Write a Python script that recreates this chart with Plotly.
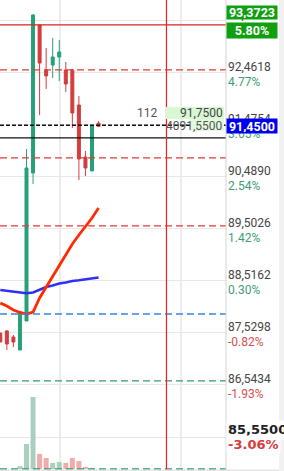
import plotly.graph_objects as go

# ---- data ----
idx = list(range(16))
opens  = [87.530, 87.568, 87.454, 87.207, 87.757, 90.565, 93.372, 92.518, 92.613, 92.765, 92.518, 92.518, 91.854, 90.868, 90.603, 91.510]
highs  = [87.530, 87.587, 87.492, 87.928, 91.020, 93.581, 93.372, 92.936, 93.125, 93.087, 92.670, 92.537, 92.025, 90.982, 91.470, 91.550]
lows   = [87.359, 87.207, 87.264, 87.207, 87.757, 90.356, 91.665, 92.158, 92.367, 92.310, 92.101, 91.418, 90.432, 90.508, 90.603, 91.450]
closes = [87.359, 87.321, 87.359, 87.928, 90.659, 93.562, 92.651, 92.405, 92.765, 92.860, 92.253, 91.703, 90.830, 90.659, 91.470, 91.450]
volume = [0, 0, 0, 1.2, 10.4, 30.0, 6.3, 4.6, 2.5, 2.9, 2.5, 4.6, 3.3, 0.8, 0.4, 0]
ma_fast = [88.099, 88.042, 87.966, 87.919, 87.890, 87.928, 88.194, 88.402, 88.611, 88.820, 89.028, 89.218, 89.389, 89.540, 89.711, 89.901]
ma_slow = [88.345, 88.326, 88.307, 88.288, 88.283, 88.298, 88.355, 88.402, 88.431, 88.469, 88.488, 88.516, 88.529, 88.548, 88.554, 88.582]
grid_prices = [93.4482, 92.4618, 91.4754, 90.4890, 89.5026, 88.5162, 87.5298, 86.5434, 85.5570]
ref_price = 88.25
high_label = 93.3723
last_price = 91.45
low_label = 85.55
red_solid_level = 93.3723
red_dash_levels = [92.52, 90.85, 89.56]
black_dash_level = 91.47
black_solid_level = 91.23
blue_dash_level = 87.89
green_dash_levels = [86.62, 84.95]
marker_x = 25.37
vgrid_x = [9.11, 27.59]

UP = "#27a07a"
DN = "#d23d3d"
VUP = "#a9cfbe"
VDN = "#f2abab"

def fmt(p, n=4):
    return f"{p:.{n}f}".replace(".", ",")

def pct(p):
    return (p / ref_price - 1) * 100

fig = go.Figure()

fig.add_trace(go.Bar(
    x=idx, y=volume, yaxis="y2", width=0.76,
    marker=dict(color=[VUP if c >= o else VDN for o, c in zip(opens, closes)], line=dict(width=0)),
    showlegend=False, hoverinfo="skip"))

fig.add_trace(go.Candlestick(
    x=idx, open=opens, high=highs, low=lows, close=closes,
    increasing=dict(line=dict(color=UP, width=1), fillcolor=UP),
    decreasing=dict(line=dict(color=DN, width=1), fillcolor=DN),
    whiskerwidth=0, showlegend=False))

fig.add_trace(go.Scatter(x=idx, y=ma_slow, mode="lines",
                         line=dict(color="#2f2ff5", width=2.5), showlegend=False))
fig.add_trace(go.Scatter(x=idx, y=ma_fast, mode="lines",
                         line=dict(color="#ff2a00", width=2.8), showlegend=False))

shapes = []
for xv, w, c in zip(vgrid_x, [2, 1], ["#ececec", "#d9d9d9"]):
    shapes.append(dict(type="line", xref="x", yref="paper", x0=xv, x1=xv, y0=0, y1=1,
                       line=dict(color=c, width=w), layer="below"))
def hline(y, color, dash="solid", width=1.2):
    shapes.append(dict(type="line", xref="paper", yref="y", x0=0, x1=1, y0=y, y1=y,
                       line=dict(color=color, width=width, dash=dash), layer="above"))
hline(red_solid_level, "#d62525", "solid", 1.3)
for lv in red_dash_levels:
    hline(lv, "#dd3a3a", "7px,4px", 1.3)
hline(black_dash_level, "#111111", "4px,2px", 1.3)
hline(black_solid_level, "#111111", "solid", 1.3)
hline(blue_dash_level, "#2f86e8", "7px,4px", 1.3)
for lv in green_dash_levels:
    hline(lv, "#2e9a72", "7px,4px", 1.3)
shapes.append(dict(type="line", xref="x", yref="paper", x0=marker_x, x1=marker_x, y0=0, y1=1,
                   line=dict(color="#ff1a1a", width=1.2), layer="above"))
# right axis border
shapes.append(dict(type="line", xref="paper", yref="paper", x0=1, x1=1, y0=0, y1=1,
                   line=dict(color="#d4d4d4", width=1)))
# right strip + bottom strip
shapes.append(dict(type="rect", xref="paper", yref="paper", x0=279/226, x1=284/226, y0=0, y1=1,
                   fillcolor="#f1f1f1", line=dict(width=0), layer="above"))
shapes.append(dict(type="rect", xref="paper", yref="paper", x0=0, x1=279/226, y0=0, y1=1.5/471,
                   fillcolor="#e4e4e4", line=dict(width=0), layer="above"))
# light green label boxes
shapes.append(dict(type="rect", xref="paper", yref="paper", x0=166/226, x1=224/226,
                   y0=(471-119)/471, y1=(471-107)/471, fillcolor="#d8f8d4", line=dict(width=0), layer="above"))
shapes.append(dict(type="rect", xref="paper", yref="paper", x0=190/226, x1=224/226,
                   y0=(471-131)/471, y1=(471-119)/471, fillcolor="#e2f9df", line=dict(width=0), layer="above"))

ann = []
FONT = "Roboto"
for p in grid_prices:
    ann.append(dict(xref="paper", yref="y", x=1, y=p, xanchor="left", yanchor="middle", yshift=6,
                    text=fmt(p), showarrow=False, font=dict(family=FONT, size=12, color="#444444")))
    pc = pct(p)
    ann.append(dict(xref="paper", yref="y", x=1, y=p, xanchor="left", yanchor="middle", yshift=-9,
                    text=f"{pc:.2f}%", showarrow=False,
                    font=dict(family=FONT, size=12, color="#3e9d74" if pc >= 0 else "#d64f4f")))
# low label (bold)
ann.append(dict(xref="paper", yref="y", x=1, y=low_label, xanchor="left", yanchor="middle", yshift=8,
                text="<b>" + fmt(low_label) + "</b>", showarrow=False, bgcolor="#ffffff",
                font=dict(family="DejaVu Sans", size=13, color="#222222")))
ann.append(dict(xref="paper", yref="y", x=1, y=low_label, xanchor="left", yanchor="middle", yshift=-7,
                text=f"<b>{pct(low_label):.2f}%</b>", showarrow=False, bgcolor="#ffffff",
                font=dict(family="DejaVu Sans", size=13, color="#d63c3c")))
# high label boxes
ann.append(dict(xref="paper", yref="paper", x=1, y=(471-12.5)/471, xanchor="left", yanchor="middle", xshift=0,
                text="<b>" + fmt(high_label) + "</b>", showarrow=False, bgcolor="#0f9f0f", width=48, height=11,
                borderpad=1, font=dict(family=FONT, size=12.5, color="white")))
ann.append(dict(xref="paper", yref="paper", x=1, y=(471-30.5)/471, xanchor="left", yanchor="middle", xshift=0,
                text=f"<b>{pct(high_label):.2f}%</b>", showarrow=False, bgcolor="#0f9f0f", width=48, height=13,
                borderpad=1, font=dict(family=FONT, size=12.5, color="white")))
# last price box
ann.append(dict(xref="paper", yref="paper", x=1, y=(471-126)/471, xanchor="left", yanchor="middle", xshift=0,
                text="<b>" + fmt(last_price) + "</b>", showarrow=False, bgcolor="#0000f0", width=48, height=12,
                borderpad=1, font=dict(family=FONT, size=12.5, color="white")))
# in-plot labels
ann.append(dict(xref="paper", yref="paper", x=159/226, y=(471-113)/471, xanchor="right", yanchor="middle",
                text="112", showarrow=False, font=dict(family=FONT, size=12, color="#555555")))
ann.append(dict(xref="paper", yref="paper", x=225/226, y=(471-113)/471, xanchor="right", yanchor="middle",
                text="91,7500", showarrow=False, font=dict(family=FONT, size=12, color="#444444")))
ann.append(dict(xref="paper", yref="paper", x=225/226, y=(471-126)/471, xanchor="right", yanchor="middle",
                text="4091,5500", showarrow=False, font=dict(family=FONT, size=12, color="#555555")))

fig.update_layout(
    width=284, height=471, margin=dict(l=0, r=58, t=0, b=0),
    paper_bgcolor="white", plot_bgcolor="white",
    xaxis=dict(range=[-0.046, 34.46], showgrid=False, zeroline=False, showticklabels=False,
               rangeslider=dict(visible=False), fixedrange=True),
    yaxis=dict(range=[84.912, 93.846], tickvals=grid_prices, showticklabels=False, showgrid=True,
               gridcolor="#e8e8e8", gridwidth=1, zeroline=False, side="right"),
    yaxis2=dict(range=[-0.833, 195.4], overlaying="y", visible=False),
    boxgap=0.35, bargap=0.2,
    shapes=shapes, annotations=ann, showlegend=False,
)

fig.write_html("out.html")
